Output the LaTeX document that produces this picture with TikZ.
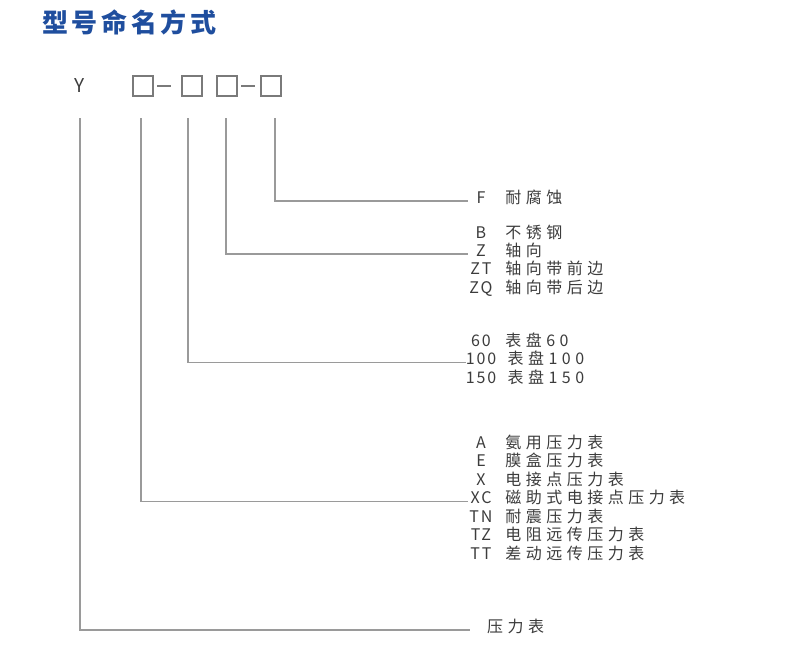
\documentclass[tikz,border=0pt]{standalone}
\usepackage{fontspec}
\usepackage{xcolor}
\usepackage{tikz}
\usetikzlibrary{positioning}
\setmainfont{Noto Sans CJK SC}
\newfontfamily\titlefont[LetterSpace=14]{Noto Sans CJK SC}
\newfontfamily\descfont[LetterSpace=28]{Noto Sans CJK SC}
\newfontfamily\codefont[LetterSpace=12]{Noto Sans CJK SC}
\definecolor{titleblue}{HTML}{1F4E9E}
\definecolor{textgray}{HTML}{3C3C3C}
\definecolor{linegray}{HTML}{9A9A9A}
\definecolor{boxgray}{HTML}{7A7A7A}

\begin{document}
\begin{tikzpicture}[x=1pt,y=-1pt,
  codebox/.style={draw=boxgray,line width=1.2pt,minimum size=20pt,inner sep=0pt},
  hyphen/.style={draw=boxgray,line width=1.2pt},
  lead/.style={draw=linegray,line width=1.4pt},
  code/.style={inner sep=0pt,minimum width=26pt,text height=13pt,text depth=1pt,
    font=\codefont\fontsize{16}{18}\selectfont,text=textgray},
  desc/.style={inner sep=0pt,text height=13pt,text depth=1pt,
    font=\descfont\fontsize{16}{18}\selectfont,text=textgray}]
\useasboundingbox (0,0) rectangle (790,656);
\node[anchor=west,inner sep=0pt,text=titleblue,font=\titlefont\bfseries\fontsize{26}{30}\selectfont] (title) at (42,22) {型号命名方式};
% model code
\node[code,font=\codefont\fontsize{19}{20}\selectfont] (y) at (80,86) {Y};
\node[codebox] (b1) at (143,86) {};
\node[codebox] (b2) at (192,86) {};
\node[codebox] (b3) at (227,86) {};
\node[codebox] (b4) at (271,86) {};
\draw[hyphen] (157,86) -- (171,86);
\draw[hyphen] (241,86) -- (255,86);
\coordinate (t0) at (80,118);
\coordinate (t1) at (141,118);
\coordinate (t2) at (188,118);
\coordinate (t3) at (226,118);
\coordinate (t4) at (275,118);
% material
\node[code] (cF) at (481,197) {F};
\node[desc,right=11pt of cF] (dF) {耐腐蚀};
% connection
\node[code] (cB) at (481,232) {B};
\node[desc,right=11pt of cB] (dB) {不锈钢};
\node[code] (cZ) at (481,250) {Z};
\node[desc,right=11pt of cZ] (dZ) {轴向};
\node[code] (cZT) at (481,268.5) {ZT};
\node[desc,right=11pt of cZT] (dZT) {轴向带前边};
\node[code] (cZQ) at (481,287) {ZQ};
\node[desc,right=11pt of cZQ] (dZQ) {轴向带后边};
% dial
\node[code] (c60) at (481,340) {60};
\node[desc,right=11pt of c60] (d60) {表盘60};
\node[code] (c100) at (481,358.5) {100};
\node[desc,right=11pt of c100] (d100) {表盘100};
\node[code] (c150) at (481,377) {150};
\node[desc,right=11pt of c150] (d150) {表盘150};
% type
\node[code] (cA) at (481,442) {A};
\node[desc,right=11pt of cA] (dA) {氨用压力表};
\node[code] (cE) at (481,460.5) {E};
\node[desc,right=11pt of cE] (dE) {膜盒压力表};
\node[code] (cX) at (481,479) {X};
\node[desc,right=11pt of cX] (dX) {电接点压力表};
\node[code] (cXC) at (481,497.5) {XC};
\node[desc,right=11pt of cXC] (dXC) {磁助式电接点压力表};
\node[code] (cTN) at (481,516) {TN};
\node[desc,right=11pt of cTN] (dTN) {耐震压力表};
\node[code] (cTZ) at (481,534.5) {TZ};
\node[desc,right=11pt of cTZ] (dTZ) {电阻远传压力表};
\node[code] (cTT) at (481,553) {TT};
\node[desc,right=11pt of cTT] (dTT) {差动远传压力表};
% gauge
\coordinate (e0) at (470,630);
\node[desc,anchor=west] (gauge) at (487,626) {压力表};
% leads
\draw[lead] (t4) |- ([yshift=-4pt]cF.west);
\draw[lead] (t3) |- ([yshift=-4pt]cZ.west);
\draw[lead] (t2) |- ([yshift=-4pt]c100.west);
\draw[lead] (t1) |- ([yshift=-4pt]cXC.west);
\draw[lead] (t0) |- (e0);
\end{tikzpicture}
\end{document}
